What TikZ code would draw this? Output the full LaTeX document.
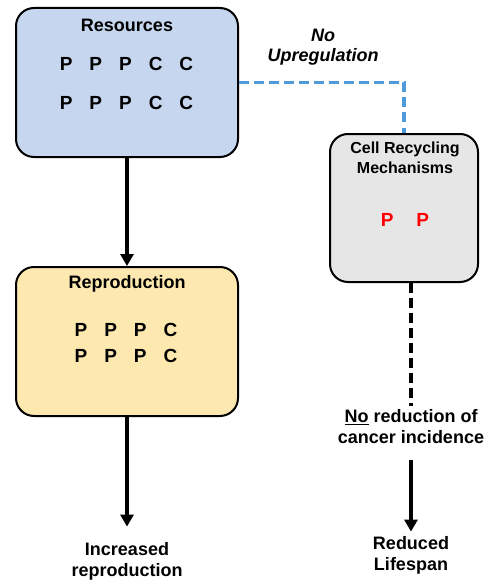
\documentclass[tikz,border=0pt]{standalone}
\usepackage{fontspec}
\setmainfont{Liberation Sans}
\usetikzlibrary{arrows.meta}
\definecolor{resblue}{HTML}{C6D6EE}
\definecolor{repyellow}{HTML}{FDE9AF}
\definecolor{cellgray}{HTML}{E6E6E6}
\definecolor{linkblue}{HTML}{4F9AD8}
\newcommand{\lettergap}{\hspace{17pt}}

\begin{document}
\begin{tikzpicture}[x=1pt, y=-1pt, font=\bfseries,
  box/.style={draw, line width=2pt, rounded corners=18pt},
  title/.style={font=\fontsize{18}{21}\selectfont\bfseries, align=center},
  letters/.style={font=\fontsize{19}{22}\selectfont\bfseries},
  arr/.style={line width=3.2pt, -{Triangle[length=12pt,width=13pt]}},
  dashline/.style={line width=3.2pt, dash pattern=on 10pt off 5pt}]
  \useasboundingbox (0,0) rectangle (493,583);

  \node[box, fill=resblue, minimum width=222pt, minimum height=149pt] (res) at (127,82.5) {};
  \node[title] (restitle) at (127,25) {Resources};
  \node[letters] (resrow1) at (126.5,64) {P\lettergap P\lettergap P\lettergap C\lettergap C};
  \node[letters] (resrow2) at (126.5,103) {P\lettergap P\lettergap P\lettergap C\lettergap C};

  \node[box, fill=repyellow, minimum width=222pt, minimum height=149pt] (rep) at (127,341.5) {};
  \node[title] (reptitle) at (127,284) {Reproduction};
  \node[letters] (reprow1) at (126,330) {P\lettergap P\lettergap P\lettergap C};
  \node[letters] (reprow2) at (126,356) {P\lettergap P\lettergap P\lettergap C};

  \node[box, fill=cellgray, minimum width=148pt, minimum height=148pt] (cell) at (404,208) {};
  \node[title, font=\fontsize{16}{20}\selectfont\bfseries] (celltitle) at (405,158) {Cell Recycling\\Mechanisms};
  \node[letters, text=red] (cellrow) at (405,220) {P\hspace{23pt}P};

  \node[title, font=\fontsize{18}{20}\selectfont\bfseries\itshape] (noup) at (323,47) {No\\Upregulation};
  \node[title] (incr) at (127,561) {Increased\\reproduction};
  \node[title] (cancer) at (411,427) {\underline{No} reduction of\\cancer incidence};
  \node[title] (life) at (411,555) {Reduced\\Lifespan};

  \draw[dashline, linkblue] (res.east) -| (cell.north);
  \draw[arr] (res) -- (rep);
  \draw[arr, shorten >=12pt] (rep) -- (incr);
  \draw[dashline] (cancer.north |- cell.south) -- (cancer);
  \draw[arr, shorten <=12pt, shorten >=1pt] (cancer) -- (life);
\end{tikzpicture}
\end{document}
